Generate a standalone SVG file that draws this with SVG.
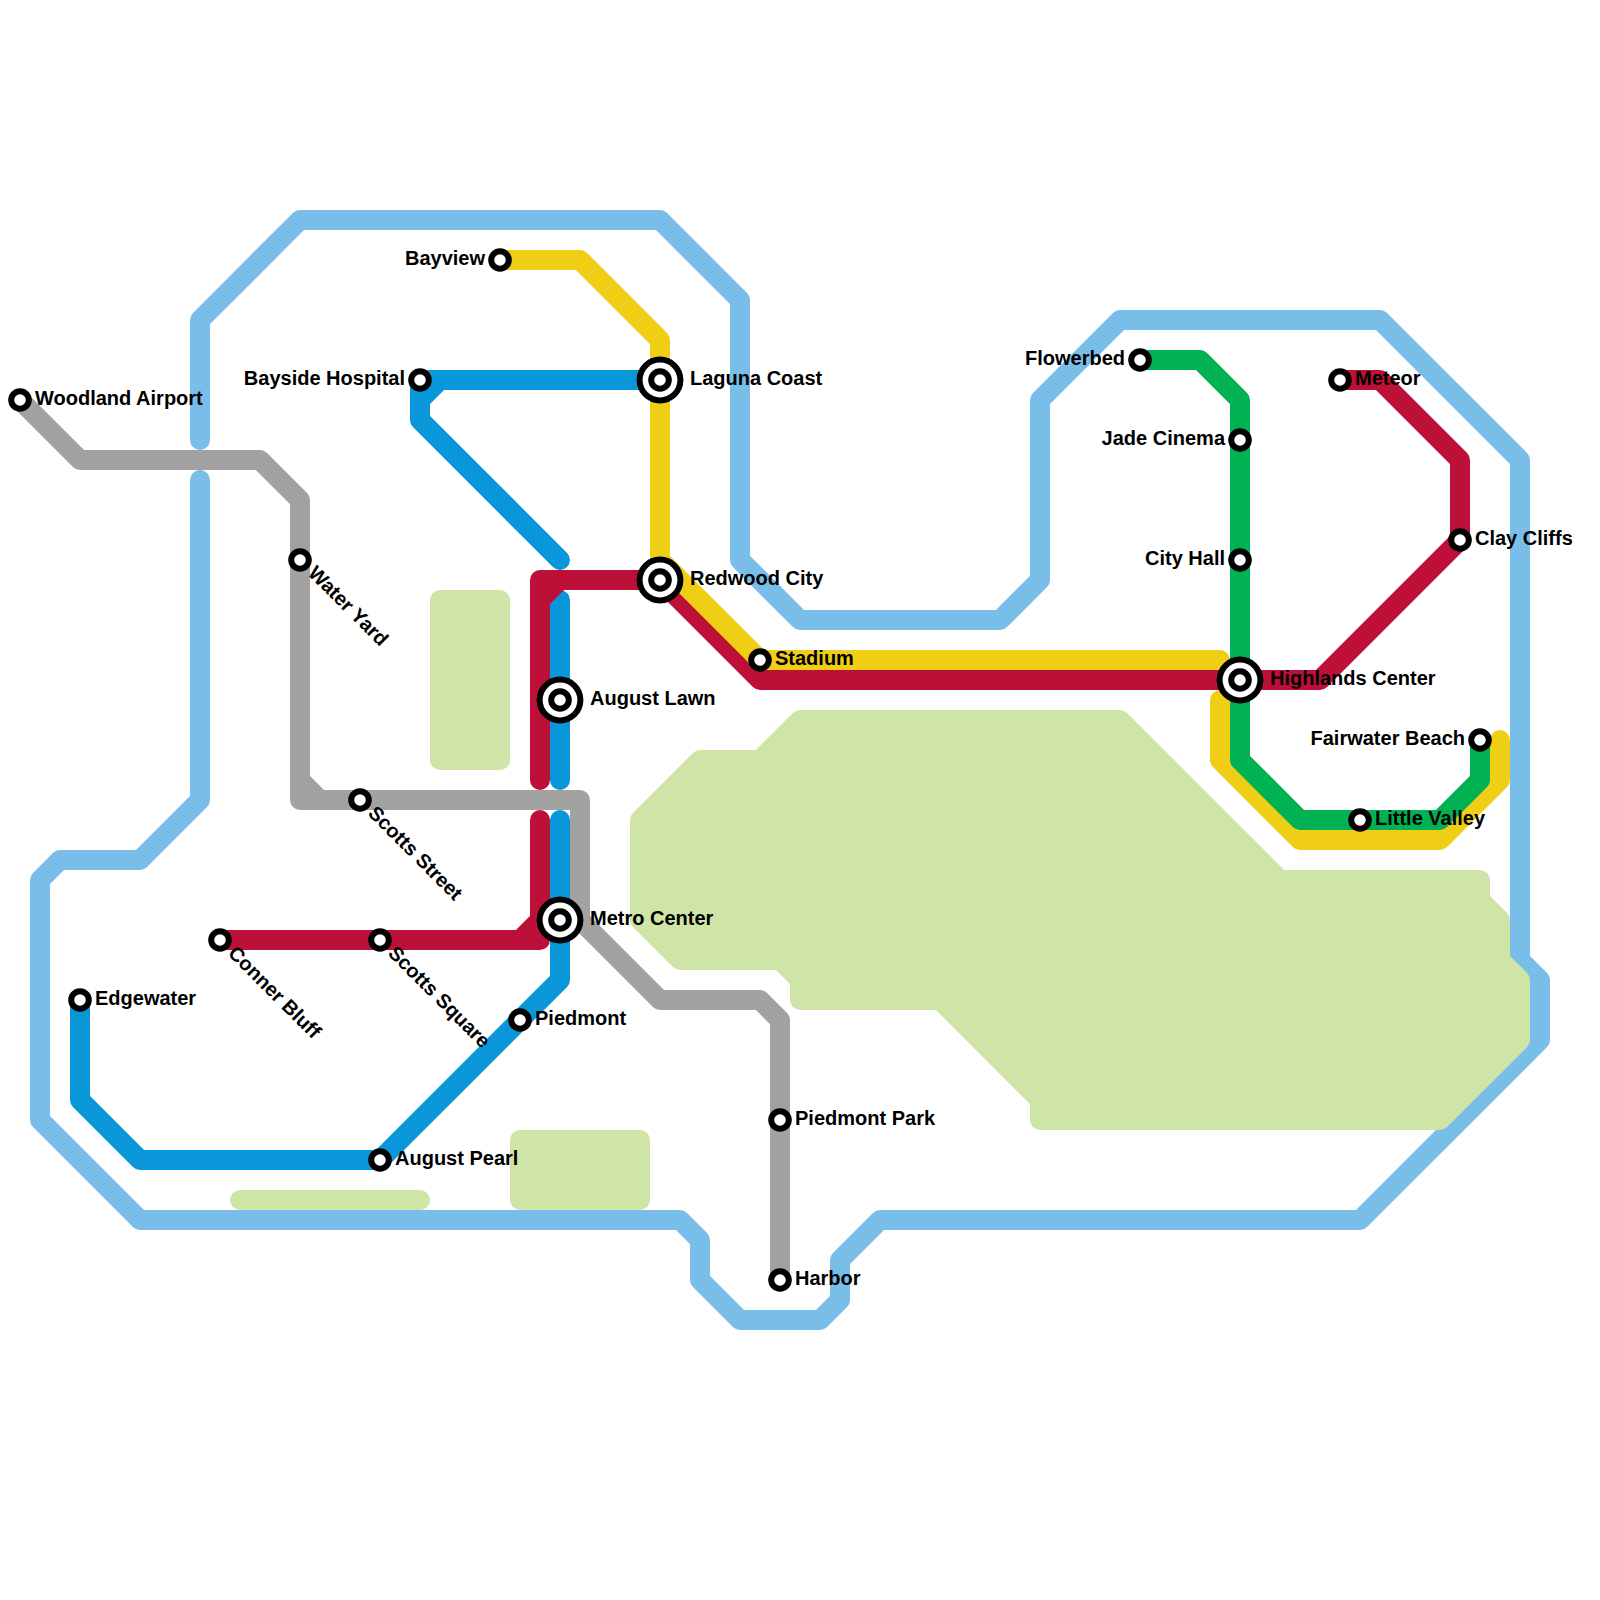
<svg xmlns="http://www.w3.org/2000/svg" width="1600" height="1600" viewBox="0 0 1600 1600">
<style>
.l{fill:none;stroke-width:20;stroke-linecap:round;stroke-linejoin:round}
.sky{stroke:#79bde9}.ocean{stroke:#0a97d9}.red{stroke:#bd1038}.yel{stroke:#f0ce15}.grn{stroke:#00b251}.gry{stroke:#a2a2a2}
.park{fill:#cfe4a7;stroke:#cfe4a7;stroke-width:20;stroke-linejoin:round;stroke-linecap:round}
.s{fill:#fff;stroke:#000;stroke-width:6}
text{font-family:"Liberation Sans",Arial,sans-serif;font-weight:700;font-size:20px;fill:#000}
.e{text-anchor:end}
</style>
<g id="connectors-back">
<path class="l sky" d="M200 440V320L300 220H660L740 300V560L800 620H1000L1040 580V400L1120 320H1380L1520 460V960L1540 980V1040L1360 1220H880L840 1260V1300L820 1320H740L700 1280V1240L680 1220H140L40 1120V880L60 860H140L200 800V480"/>
</g>
<g id="parks">
<path class="park" d="M640 820L700 760H760L800 720H1120L1280 880H1480V900L1500 920V960L1520 980V1040L1440 1120H1040V1100L940 1000H800V980L780 960H680L640 920Z"/>
<rect class="park" x="440" y="600" width="60" height="160"/>
<rect class="park" x="520" y="1140" width="120" height="60"/>
<path class="park" d="M240 1200H420"/>
</g>
<g id="connectors">
<path class="l ocean" d="M80 1000V1100L140 1160H380L560 980V820"/>
<path class="l ocean" d="M560 780V600"/>
<path class="l ocean" d="M660 380H420V420L560 560"/>
<path class="l ocean" d="M420 400L440 380"/>
<path class="l gry" d="M20 400L80 460H260L300 500V800H580V920L660 1000H760L780 1020V1280"/>
<path class="l gry" d="M300 780L320 800"/>
<path class="l red" d="M220 940H540V820"/>
<path class="l red" d="M520 940L540 920"/>
<path class="l red" d="M540 780V580H660L760 680H1320L1460 540V460L1380 380H1340"/>
<path class="l red" d="M540 600L560 580"/>
<path class="l yel" d="M500 260H580L660 340V560L760 660H1220"/>
<path class="l yel" d="M1220 700V760L1300 840H1440L1500 780V740"/>
<path class="l grn" d="M1140 360H1200L1240 400V760L1300 820H1440L1480 780V740"/>
</g>
<g id="st-woodland-airport"><circle class="s" cx="20" cy="400" r="8.8"/><text x="35" y="405">Woodland Airport</text></g>
<g id="st-water-yard"><circle class="s" cx="300" cy="560" r="8.8"/><text transform="translate(300 560) rotate(45)" x="15" y="5">Water Yard</text></g>
<g id="st-scotts-street"><circle class="s" cx="360" cy="800" r="8.8"/><text transform="translate(360 800) rotate(45)" x="15" y="5">Scotts Street</text></g>
<g id="st-conner-bluff"><circle class="s" cx="220" cy="940" r="8.8"/><text transform="translate(220 940) rotate(45)" x="15" y="5">Conner Bluff</text></g>
<g id="st-scotts-square"><circle class="s" cx="380" cy="940" r="8.8"/><text transform="translate(380 940) rotate(45)" x="15" y="5">Scotts Square</text></g>
<g id="st-edgewater"><circle class="s" cx="80" cy="1000" r="8.8"/><text x="95" y="1005">Edgewater</text></g>
<g id="st-august-pearl"><circle class="s" cx="380" cy="1160" r="8.8"/><text x="395" y="1165">August Pearl</text></g>
<g id="st-piedmont"><circle class="s" cx="520" cy="1020" r="8.8"/><text x="535" y="1025">Piedmont</text></g>
<g id="st-bayview"><circle class="s" cx="500" cy="260" r="8.8"/><text class="e" x="485" y="265">Bayview</text></g>
<g id="st-bayside-hospital"><circle class="s" cx="420" cy="380" r="8.8"/><text class="e" x="405" y="385">Bayside Hospital</text></g>
<g id="st-laguna-coast"><circle class="s" cx="660" cy="380" r="20.4"/><circle class="s" cx="660" cy="380" r="8.8"/><text x="690" y="385">Laguna Coast</text></g>
<g id="st-redwood-city"><circle class="s" cx="660" cy="580" r="20.4"/><circle class="s" cx="660" cy="580" r="8.8"/><text x="690" y="585">Redwood City</text></g>
<g id="st-august-lawn"><circle class="s" cx="560" cy="700" r="20.4"/><circle class="s" cx="560" cy="700" r="8.8"/><text x="590" y="705">August Lawn</text></g>
<g id="st-metro-center"><circle class="s" cx="560" cy="920" r="20.4"/><circle class="s" cx="560" cy="920" r="8.8"/><text x="590" y="925">Metro Center</text></g>
<g id="st-stadium"><circle class="s" cx="760" cy="660" r="8.8"/><text x="775" y="665">Stadium</text></g>
<g id="st-piedmont-park"><circle class="s" cx="780" cy="1120" r="8.8"/><text x="795" y="1125">Piedmont Park</text></g>
<g id="st-harbor"><circle class="s" cx="780" cy="1280" r="8.8"/><text x="795" y="1285">Harbor</text></g>
<g id="st-flowerbed"><circle class="s" cx="1140" cy="360" r="8.8"/><text class="e" x="1125" y="365">Flowerbed</text></g>
<g id="st-jade-cinema"><circle class="s" cx="1240" cy="440" r="8.8"/><text class="e" x="1225" y="445">Jade Cinema</text></g>
<g id="st-city-hall"><circle class="s" cx="1240" cy="560" r="8.8"/><text class="e" x="1225" y="565">City Hall</text></g>
<g id="st-highlands-center"><circle class="s" cx="1240" cy="680" r="20.4"/><circle class="s" cx="1240" cy="680" r="8.8"/><text x="1270" y="685">Highlands Center</text></g>
<g id="st-meteor"><circle class="s" cx="1340" cy="380" r="8.8"/><text x="1355" y="385">Meteor</text></g>
<g id="st-clay-cliffs"><circle class="s" cx="1460" cy="540" r="8.8"/><text x="1475" y="545">Clay Cliffs</text></g>
<g id="st-fairwater-beach"><circle class="s" cx="1480" cy="740" r="8.8"/><text class="e" x="1465" y="745">Fairwater Beach</text></g>
<g id="st-little-valley"><circle class="s" cx="1360" cy="820" r="8.8"/><text x="1375" y="825">Little Valley</text></g>
</svg>
